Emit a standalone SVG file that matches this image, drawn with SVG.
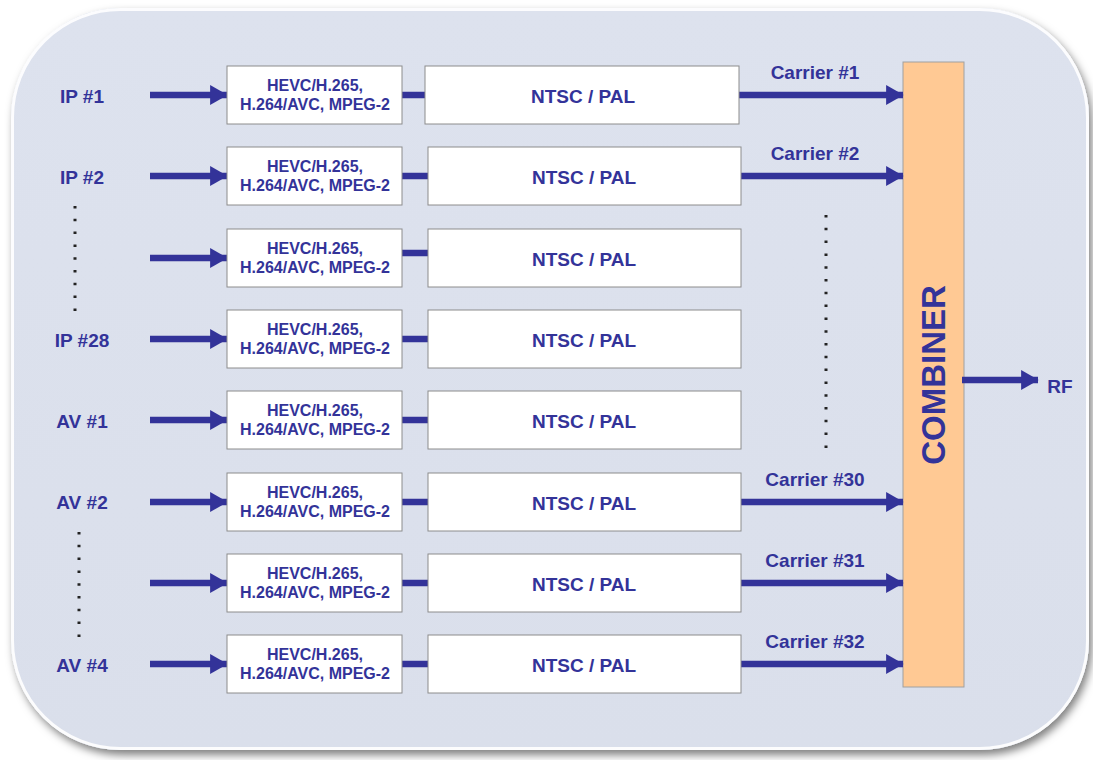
<svg xmlns="http://www.w3.org/2000/svg" width="1093" height="760" viewBox="0 0 1093 760">
<defs>
<filter id="sh" x="-5%" y="-5%" width="110%" height="110%">
<feDropShadow dx="3" dy="5" stdDeviation="4" flood-color="#000" flood-opacity="0.5"/>
</filter>
<linearGradient id="bg" x1="0" y1="0" x2="0" y2="1">
<stop offset="0" stop-color="#dde2ee"/>
<stop offset="1" stop-color="#dadfeb"/>
</linearGradient>
<marker id="ah" markerWidth="4" markerHeight="4" refX="2.6" refY="2" orient="auto" markerUnits="strokeWidth">
<path d="M0,0.45 L2.7,2 L0,3.55 Z" fill="#333399"/>
</marker>
<style>
.t{font-family:"Liberation Sans",Arial,sans-serif;font-weight:bold;fill:#333399;text-anchor:middle}
.lbl{font-size:19px}
.enc{font-size:16px}
.box{fill:#fff;stroke:#8c8c8c;stroke-width:1}
.ar{stroke:#333399;stroke-width:6.5;fill:none;marker-end:url(#ah)}
.bar{stroke:#333399;stroke-width:6.5;fill:none}
.dot{stroke:#222;stroke-width:3;stroke-dasharray:2.5 10.3;fill:none}
</style>
</defs>
<rect x="11" y="8" width="1078" height="742" rx="110" ry="110" fill="url(#bg)" filter="url(#sh)"/>
<rect x="12.5" y="9.5" width="1075" height="739" rx="108" ry="108" fill="none" stroke="#ffffff" stroke-width="3" opacity="0.9"/>

<g id="combiner">
<rect x="903" y="62" width="61" height="625" fill="#ffc994" stroke="#a0a0a0" stroke-width="1"/>
<text class="t" x="0" y="0" font-size="33" transform="translate(945,375) rotate(-90)">COMBINER</text>
</g>

<g id="connectors">
<line class="ar" x1="150" y1="95" x2="227" y2="95"/>
<line class="ar" x1="150" y1="176" x2="227" y2="176"/>
<line class="ar" x1="150" y1="258" x2="227" y2="258"/>
<line class="ar" x1="150" y1="339" x2="227" y2="339"/>
<line class="ar" x1="150" y1="420" x2="227" y2="420"/>
<line class="ar" x1="150" y1="502" x2="227" y2="502"/>
<line class="ar" x1="150" y1="583" x2="227" y2="583"/>
<line class="ar" x1="150" y1="664" x2="227" y2="664"/>
<line class="bar" x1="402" y1="95" x2="426" y2="95"/>
<line class="bar" x1="402" y1="176" x2="429" y2="176"/>
<line class="bar" x1="402" y1="253" x2="429" y2="253"/>
<line class="bar" x1="402" y1="339" x2="429" y2="339"/>
<line class="bar" x1="402" y1="420" x2="429" y2="420"/>
<line class="bar" x1="402" y1="502" x2="429" y2="502"/>
<line class="bar" x1="402" y1="583" x2="429" y2="583"/>
<line class="bar" x1="402" y1="664" x2="429" y2="664"/>
<line class="ar" x1="739" y1="95" x2="903" y2="95"/>
<line class="ar" x1="741" y1="176" x2="903" y2="176"/>
<line class="ar" x1="740" y1="502" x2="903" y2="502"/>
<line class="ar" x1="740" y1="583" x2="903" y2="583"/>
<line class="ar" x1="740" y1="664" x2="903" y2="664"/>
<line class="ar" x1="962" y1="380" x2="1038" y2="380"/>
<line class="dot" x1="75" y1="206" x2="75" y2="312"/>
<line class="dot" x1="79" y1="532" x2="79" y2="638"/>
<line class="dot" x1="826" y1="215" x2="826" y2="450"/>
</g>

<g id="labels">
<text class="t lbl" x="82" y="103">IP #1</text>
<text class="t lbl" x="82" y="184">IP #2</text>
<text class="t lbl" x="82" y="347">IP #28</text>
<text class="t lbl" x="82" y="428">AV #1</text>
<text class="t lbl" x="82" y="509">AV #2</text>
<text class="t lbl" x="82" y="672">AV #4</text>
<text class="t lbl" x="815" y="79">Carrier #1</text>
<text class="t lbl" x="815" y="160">Carrier #2</text>
<text class="t lbl" x="815" y="486">Carrier #30</text>
<text class="t lbl" x="815" y="567">Carrier #31</text>
<text class="t lbl" x="815" y="648">Carrier #32</text>
<text class="t lbl" x="1060" y="393">RF</text>
</g>

<g id="row1">
<rect class="box" x="227" y="66" width="175" height="58"/>
<text class="t enc" x="315" y="91">HEVC/H.265,</text>
<text class="t enc" x="315" y="110">H.264/AVC, MPEG-2</text>
<rect class="box" x="425" y="66" width="314" height="58"/>
<text class="t lbl" x="583" y="103">NTSC / PAL</text>
</g>
<g id="row2">
<rect class="box" x="227" y="147" width="175" height="58"/>
<text class="t enc" x="315" y="172">HEVC/H.265,</text>
<text class="t enc" x="315" y="191">H.264/AVC, MPEG-2</text>
<rect class="box" x="428" y="147" width="313" height="58"/>
<text class="t lbl" x="584" y="184">NTSC / PAL</text>
</g>
<g id="row3">
<rect class="box" x="227" y="229" width="175" height="58"/>
<text class="t enc" x="315" y="254">HEVC/H.265,</text>
<text class="t enc" x="315" y="273">H.264/AVC, MPEG-2</text>
<rect class="box" x="428" y="229" width="313" height="58"/>
<text class="t lbl" x="584" y="266">NTSC / PAL</text>
</g>
<g id="row4">
<rect class="box" x="227" y="310" width="175" height="58"/>
<text class="t enc" x="315" y="335">HEVC/H.265,</text>
<text class="t enc" x="315" y="354">H.264/AVC, MPEG-2</text>
<rect class="box" x="428" y="310" width="313" height="58"/>
<text class="t lbl" x="584" y="347">NTSC / PAL</text>
</g>
<g id="row5">
<rect class="box" x="227" y="391" width="175" height="58"/>
<text class="t enc" x="315" y="416">HEVC/H.265,</text>
<text class="t enc" x="315" y="435">H.264/AVC, MPEG-2</text>
<rect class="box" x="428" y="391" width="313" height="58"/>
<text class="t lbl" x="584" y="428">NTSC / PAL</text>
</g>
<g id="row6">
<rect class="box" x="227" y="473" width="175" height="58"/>
<text class="t enc" x="315" y="498">HEVC/H.265,</text>
<text class="t enc" x="315" y="517">H.264/AVC, MPEG-2</text>
<rect class="box" x="428" y="473" width="313" height="58"/>
<text class="t lbl" x="584" y="510">NTSC / PAL</text>
</g>
<g id="row7">
<rect class="box" x="227" y="554" width="175" height="58"/>
<text class="t enc" x="315" y="579">HEVC/H.265,</text>
<text class="t enc" x="315" y="598">H.264/AVC, MPEG-2</text>
<rect class="box" x="428" y="554" width="313" height="58"/>
<text class="t lbl" x="584" y="591">NTSC / PAL</text>
</g>
<g id="row8">
<rect class="box" x="227" y="635" width="175" height="58"/>
<text class="t enc" x="315" y="660">HEVC/H.265,</text>
<text class="t enc" x="315" y="679">H.264/AVC, MPEG-2</text>
<rect class="box" x="428" y="635" width="313" height="58"/>
<text class="t lbl" x="584" y="672">NTSC / PAL</text>
</g>
</svg>
